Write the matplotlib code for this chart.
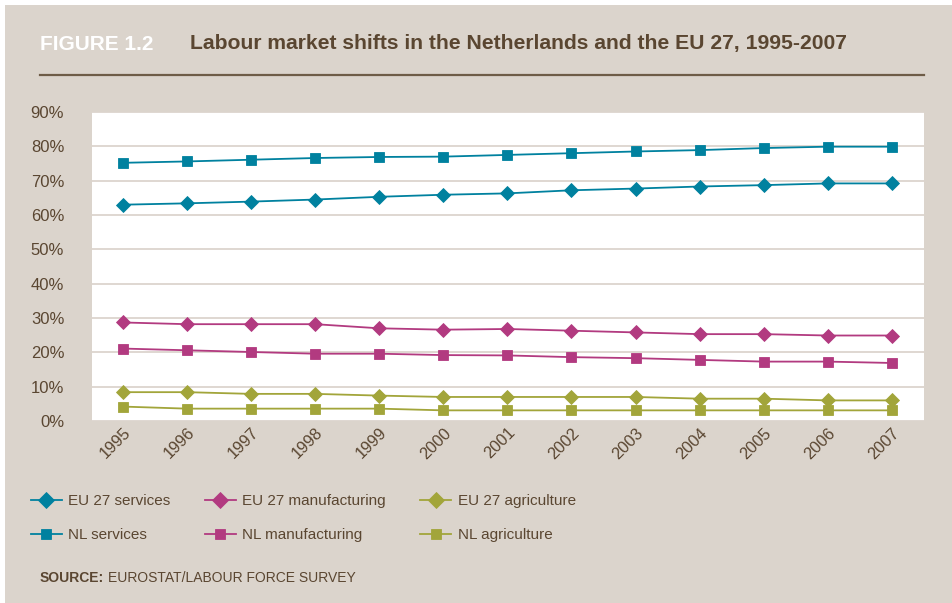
import matplotlib
matplotlib.use("Agg")
import matplotlib.pyplot as plt
from matplotlib.patches import Rectangle
from matplotlib.lines import Line2D
from matplotlib.ticker import FuncFormatter, MultipleLocator

# 労働市場データ（%）
years = list(range(1995, 2008))
eu_services = [63.0, 63.4, 63.9, 64.5, 65.3, 65.9, 66.3, 67.2, 67.7, 68.3, 68.7, 69.2, 69.2]
eu_manufacturing = [28.7, 28.2, 28.2, 28.2, 27.0, 26.6, 26.8, 26.3, 25.8, 25.3, 25.3, 24.9, 24.9]
eu_agriculture = [8.4, 8.4, 7.9, 7.9, 7.4, 7.0, 7.0, 7.0, 7.0, 6.5, 6.5, 6.0, 6.0]
nl_services = [75.2, 75.6, 76.1, 76.6, 76.9, 77.0, 77.5, 78.0, 78.5, 78.9, 79.5, 79.9, 79.9]
nl_manufacturing = [21.1, 20.6, 20.1, 19.6, 19.6, 19.2, 19.1, 18.6, 18.3, 17.8, 17.3, 17.3, 16.9]
nl_agriculture = [4.2, 3.6, 3.6, 3.6, 3.6, 3.1, 3.1, 3.1, 3.1, 3.1, 3.1, 3.1, 3.1]

BEIGE = "#dbd4cc"
BROWN = "#5a4631"
TEAL = "#00819f"
MAGENTA = "#b23a80"
OLIVE = "#a2a53a"
GRID = "#d9d1c9"

plt.rcParams["font.family"] = ["Liberation Sans", "DejaVu Sans"]

W, H = 953, 603
fig = plt.figure(figsize=(W / 100, H / 100), dpi=100)
fig.patch.set_facecolor("white")
fig.patches.append(Rectangle((5 / W, 0), 1, 1 - 5 / H, transform=fig.transFigure,
                             facecolor=BEIGE, edgecolor="none", zorder=-10))

# タイトルと区切り線
fig.text(40 / W, 1 - 44 / H, "FIGURE 1.2", color="white", fontsize=15,
         fontweight="bold", va="center", ha="left")
fig.text(190 / W, 1 - 44 / H, "Labour market shifts in the Netherlands and the EU 27, 1995-2007",
         color=BROWN, fontsize=15.2, fontweight="bold", va="center", ha="left")
fig.add_artist(Line2D([40 / W, 924 / W], [1 - 75 / H, 1 - 75 / H], transform=fig.transFigure,
                      color="#6e5c47", lw=1.6))

ax = fig.add_axes([92 / W, (H - 421) / H, (924 - 92) / W, (421 - 112) / H])
ax.set_facecolor("white")
for s in ax.spines.values():
    s.set_visible(False)

series = [
    ("EU 27 services", eu_services, TEAL, "D"),
    ("NL services", nl_services, TEAL, "s"),
    ("EU 27 manufacturing", eu_manufacturing, MAGENTA, "D"),
    ("NL manufacturing", nl_manufacturing, MAGENTA, "s"),
    ("EU 27 agriculture", eu_agriculture, OLIVE, "D"),
    ("NL agriculture", nl_agriculture, OLIVE, "s"),
]
for label, vals, col, mk in series:
    ms = 6.8 if mk == "D" else 7.6
    ax.plot(years, [v / 100 for v in vals], color=col, lw=1.3, marker=mk, markersize=ms,
            markeredgewidth=0.6, markeredgecolor=col, label=label, zorder=3)

ax.set_xlim(1994.52, 2007.5)
ax.set_ylim(0, 0.9)
ax.yaxis.set_major_locator(MultipleLocator(0.1))
ax.yaxis.set_major_formatter(FuncFormatter(lambda v, p: f"{v * 100:.0f}%"))
ax.grid(axis="y", color=GRID, lw=1.2)
ax.set_axisbelow(True)
ax.set_xticks(years)
ax.set_xticklabels([str(y) for y in years], rotation=45, ha="right", va="top",
                   rotation_mode="anchor")
ax.tick_params(axis="y", length=0, pad=20, labelsize=12, labelcolor=BROWN)
ax.tick_params(axis="x", length=0, pad=3, labelsize=11.8, labelcolor=BROWN)

leg = ax.legend(loc="upper left", bbox_to_anchor=(31 / W, 1 - 494 / H),
                bbox_transform=fig.transFigure, ncol=3, frameon=False, fontsize=11,
                handlelength=2.0, handletextpad=0.45, columnspacing=2.25,
                labelspacing=1.3, markerscale=1.0, borderaxespad=0, borderpad=0)
for t in leg.get_texts():
    t.set_color(BROWN)
for h in leg.legend_handles:
    if h.get_marker() == "D":
        h.set_markersize(8.0)

# 出典
src = fig.text(40 / W, 1 - 578 / H, "SOURCE:", color=BROWN, fontsize=10,
               fontweight="bold", va="center")
fig.canvas.draw()
bb = src.get_window_extent()
fig.text((bb.x1 + 4) / W, 1 - 578 / H, "EUROSTAT/LABOUR FORCE SURVEY", color=BROWN,
         fontsize=10, va="center")

fig.savefig("out.png", dpi=100, facecolor=fig.get_facecolor())
